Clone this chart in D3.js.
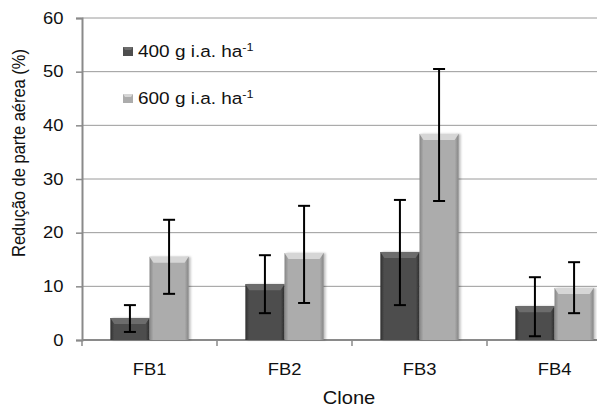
<!DOCTYPE html>
<html>
<head>
<meta charset="utf-8">
<script src="https://cdn.jsdelivr.net/npm/d3@7"></script>
<style>
  body { margin: 0; background: #fff; }
  text { font-family: "Liberation Sans", Arial, sans-serif; fill: #111; }
</style>
</head>
<body>
<svg id="chart" width="597" height="408"></svg>
<script>
const clones = ['FB1', 'FB2', 'FB3', 'FB4'];
const doses = ['400', '600'];
const values400 = [4.1, 10.4, 16.4, 6.3];
const values600 = [15.5, 16.2, 38.4, 9.7];
const errLow400 = [1.5, 5.0, 6.5, 0.7];
const errHigh400 = [6.5, 15.8, 26.1, 11.7];
const errLow600 = [8.6, 6.9, 25.9, 5.0];
const errHigh600 = [22.4, 25.0, 50.5, 14.5];
const yTicks = [0, 10, 20, 30, 40, 50, 60];

// the original picture is a bit wider than tall, text looks stretched
const stretch = 1.15;

const svg = d3.select('#chart');
const margin = {left: 82, top: 18, bottom: 68};
const height = 408 - margin.top - margin.bottom;
const bandW = 135;

const x = d3.scaleBand()
    .domain(clones)
    .range([margin.left, margin.left + bandW * clones.length])
    .paddingInner(0.42).paddingOuter(0.21);
const xs = d3.scaleBand().domain(doses).range([0, x.bandwidth()]);
const y = d3.scaleLinear().domain([0, 60]).range([margin.top + height, margin.top]);

function widen(sel) {
  sel.each(function() {
    const t = d3.select(this),
          tx = +t.attr('x') || 0,
          ty = +t.attr('y') || 0;
    t.attr('x', 0).attr('y', 0)
      .attr('transform', `translate(${tx},${ty}) scale(${stretch},1)`);
  });
}

// gradients for bevelled bars
const defs = svg.append('defs');
const shades = {'400': ['#2e2e2e', '#4e4e4e', '#6c6c6c'], '600': ['#858585', '#acacac', '#d6d6d6']};
doses.forEach(k => {
  const g = defs.append('linearGradient').attr('id', 'g' + k);
  [[0, shades[k][0]], [0.1, shades[k][1]], [0.9, shades[k][1]], [1, shades[k][0]]]
    .forEach(([o, c]) => g.append('stop').attr('offset', o).attr('stop-color', c));
});
const shadow = defs.append('filter').attr('id', 'shadow')
  .attr('x', '-20%').attr('y', '-5%').attr('width', '140%').attr('height', '110%');
shadow.append('feDropShadow').attr('dx', 2).attr('dy', 0).attr('stdDeviation', 1.2)
  .attr('flood-color', '#000').attr('flood-opacity', 0.25);

// gridlines
svg.append('g').selectAll('line').data(yTicks.slice(1)).join('line')
  .attr('x1', margin.left).attr('x2', 597)
  .attr('y1', d => y(d)).attr('y2', d => y(d))
  .attr('stroke', '#9a9a9a').attr('stroke-width', 1);

// y axis
const yAxis = svg.append('g')
  .attr('transform', `translate(${margin.left},0)`)
  .call(d3.axisLeft(y).tickValues(yTicks).tickSize(6).tickPadding(12.5));
yAxis.select('.domain').attr('stroke', '#8a8a8a').attr('stroke-width', 2);
yAxis.selectAll('.tick line').attr('stroke', '#8a8a8a').attr('stroke-width', 1.5);
yAxis.selectAll('.tick text').style('font-size', '16px').attr('fill', '#111').call(widen);

// x axis
const xAxis = svg.append('g')
  .attr('transform', `translate(0,${y(0)})`)
  .call(d3.axisBottom(x).tickSize(0).tickPadding(23.5));
xAxis.select('.domain').attr('d', `M${margin.left},0H597`).attr('stroke', '#8a8a8a').attr('stroke-width', 2);
xAxis.selectAll('.tick text').style('font-size', '16px').attr('fill', '#111').call(widen);
svg.append('g').selectAll('line').data(d3.range(clones.length + 1)).join('line')
  .attr('x1', i => margin.left + i * bandW).attr('x2', i => margin.left + i * bandW)
  .attr('y1', y(0)).attr('y2', y(0) + 6)
  .attr('stroke', '#8a8a8a').attr('stroke-width', 1.5);

// bars
const series = [
  {key: '400', vals: values400, lo: errLow400, hi: errHigh400},
  {key: '600', vals: values600, lo: errLow600, hi: errHigh600}
];
const bars = [];
series.forEach(s => clones.forEach((c, i) => bars.push({c, key: s.key, v: s.vals[i], lo: s.lo[i], hi: s.hi[i]})));

const bw = xs.bandwidth();
const bg = svg.append('g').selectAll('g').data(bars).join('g')
  .attr('transform', d => `translate(${x(d.c) + xs(d.key)},0)`);
bg.append('rect')
  .attr('y', d => y(d.v)).attr('width', bw).attr('height', d => y(0) - y(d.v))
  .attr('fill', d => `url(#g${d.key})`)
  .attr('filter', 'url(#shadow)');
// top bevel
bg.append('path')
  .attr('d', d => `M0,${y(d.v)}H${bw}L${bw - 4},${y(d.v) + 6}H4Z`)
  .attr('fill', d => shades[d.key][2]);

// error bars
const eb = svg.append('g').selectAll('g').data(bars).join('g')
  .attr('transform', d => `translate(${x(d.c) + xs(d.key) + bw / 2},0)`)
  .attr('stroke', '#000').attr('stroke-width', 2);
eb.append('line').attr('y1', d => y(d.lo)).attr('y2', d => y(d.hi));
eb.append('line').attr('x1', -6).attr('x2', 6).attr('y1', d => y(d.lo)).attr('y2', d => y(d.lo));
eb.append('line').attr('x1', -6).attr('x2', 6).attr('y1', d => y(d.hi)).attr('y2', d => y(d.hi));

// legend
const leg = svg.append('g').selectAll('g').data(doses).join('g')
  .attr('transform', (d, i) => `translate(123,${47 + i * 47})`);
leg.append('rect').attr('width', 10).attr('height', 9)
  .attr('fill', d => shades[d][1]);
leg.append('path').attr('d', 'M0,0H10L8,3H2Z').attr('fill', d => shades[d][2]);
const lt = leg.append('text').attr('x', 15).attr('y', 9.5).style('font-size', '16.5px');
lt.append('tspan').text(d => d + ' g i.a. ha');
lt.append('tspan').attr('dy', -6).style('font-size', '11px').text('-1');
widen(lt);

// axis titles
svg.append('text').attr('x', 349).attr('y', 404).attr('text-anchor', 'middle')
  .style('font-size', '17.5px').text('Clone').call(widen);
svg.append('text')
  .attr('transform', `translate(25,153) scale(${stretch},1) rotate(-90)`)
  .attr('text-anchor', 'middle').style('font-size', '16.5px').text('Redução de parte aérea (%)');
</script>
</body>
</html>
